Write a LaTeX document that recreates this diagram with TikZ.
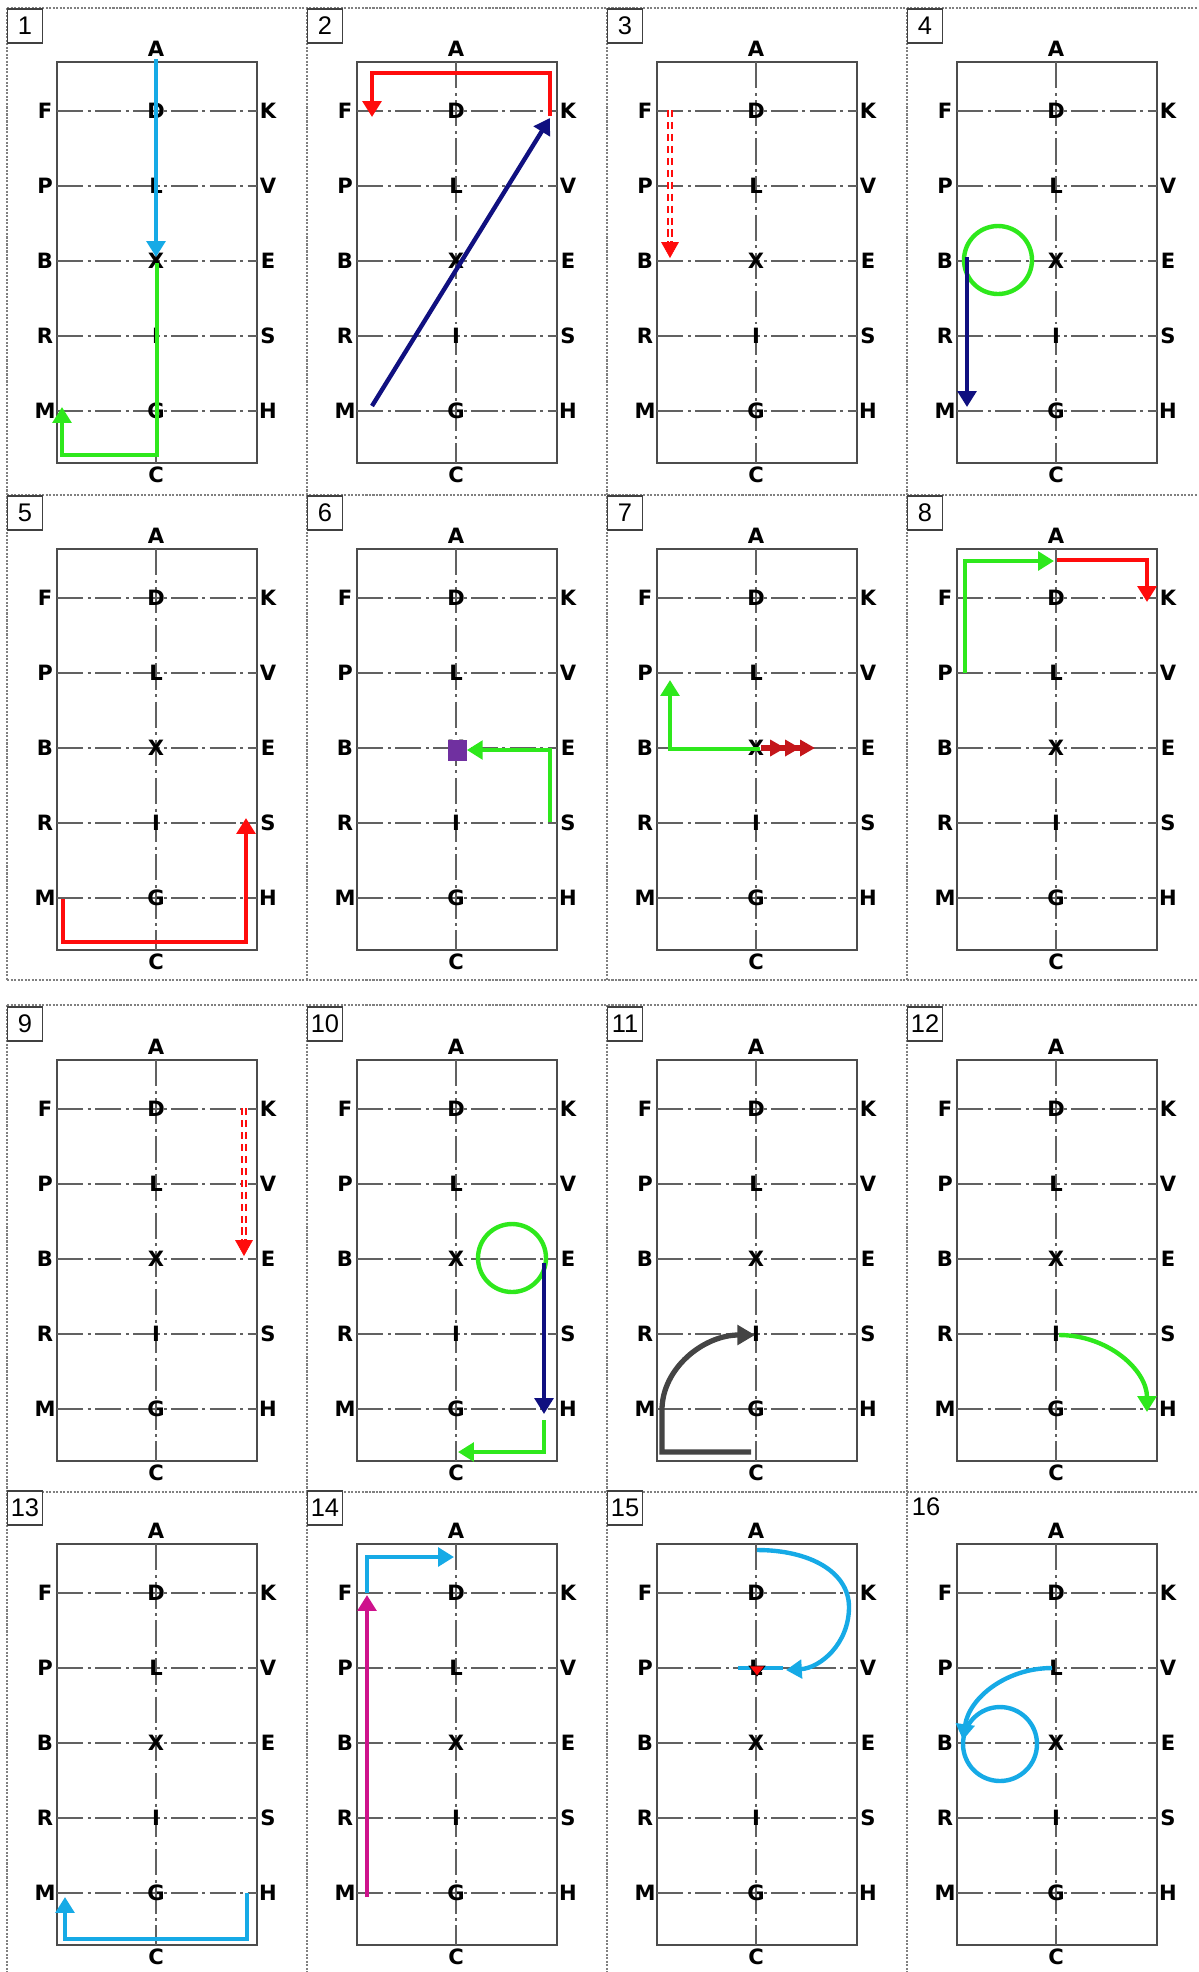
\documentclass[tikz,border=0pt]{standalone}
\usepackage{fontspec}
\setmainfont{Liberation Sans}
\newfontfamily\letterfont{DejaVu Sans}
\usetikzlibrary{arrows.meta,calc}

\definecolor{arrowBlue}{RGB}{22,170,230}
\definecolor{arrowGreen}{RGB}{46,232,28}
\definecolor{arrowRed}{RGB}{255,12,12}
\definecolor{arrowNavy}{RGB}{16,16,128}
\definecolor{arrowDarkRed}{RGB}{196,22,26}
\definecolor{arrowPurple}{RGB}{112,48,160}
\definecolor{arrowPink}{RGB}{206,18,140}
\definecolor{arrowGray}{RGB}{68,68,68}

\begin{document}
\begin{tikzpicture}[x=0.02cm, y=-0.02cm,
    letter/.style={font=\letterfont\bfseries\fontsize{12}{14}\selectfont, inner sep=0pt},
    numbox/.style={draw=black!75, line width=0.7pt, fill=white, minimum width=0.7cm, minimum height=0.68cm, inner sep=0pt, font=\fontsize{14.5}{16}\selectfont},
    numtext/.style={inner sep=0pt, font=\fontsize{14.5}{16}\selectfont},
    court/.style={draw=black!70, line width=0.9pt},
    crossline/.style={draw=black!62, line width=1.2pt, dash pattern=on 15pt off 2.5pt on 1.7pt off 2.5pt},
    frame/.style={draw=black!50, line width=0.8pt, dash pattern=on 1.2pt off 0.8pt},
    track/.style={line width=2.5pt, -{Triangle[length=9pt,width=10.5pt]}},
    ring/.style={line width=2.5pt},
    dotpair/.style={draw=#1, line width=1.1pt, double=white, double distance=1.3pt, dash pattern=on 4pt off 2.8pt},
    redtip/.style={arrowRed, line width=0.4pt, -{Triangle[length=9pt,width=10pt]}}
]
\useasboundingbox (0,0) rectangle (1198,1972);

% panel frames
\foreach \fy in {8,495,980,1005,1492}
  \draw[frame] (7,\fy) -- (1198,\fy);
\foreach \fx in {7,307,607,907}{
  \draw[frame] (\fx,8) -- (\fx,980);
  \draw[frame] (\fx,1005) -- (\fx,1972);
}

% sixteen arenas
\foreach \n/\ox/\oy in {1/0/0,2/300/0,3/600/0,4/900/0,5/0/487,6/300/487,7/600/487,8/900/487,9/0/998,10/300/998,11/600/998,12/900/998,13/0/1482,14/300/1482,15/600/1482,16/900/1482}{
  \begin{scope}[shift={(\ox,\oy)}, name prefix=p\n-]
    \draw[court] (57,62) rectangle (257,463);
    \draw[crossline] (156,62) -- (156,463);
    \coordinate (A) at (156,62);
    \coordinate (C) at (156,463);
    \node[letter] (tA) at (156,49) {A};
    \node[letter] (tC) at (156,475) {C};
    \foreach \wl/\cl/\el [count=\row] in {F/D/K,P/L/V,B/X/E,R/I/S,M/G/H}{
      \coordinate (\wl) at (57,{36+75*\row});
      \coordinate (\cl) at (156,{36+75*\row});
      \coordinate (\el) at (257,{36+75*\row});
      \draw[crossline] (\wl) -- (\el);
      \node[letter] (t\wl) at (45,{36+75*\row}) {\wl};
      \node[letter] (t\cl) at (\cl) {\cl};
      \node[letter] (t\el) at (268,{36+75*\row}) {\el};
    }
    \ifnum\n<16
      \node[numbox] (num) at (25,26) {\n};
    \else
      \node[numtext] (num) at (26,25) {\n};
    \fi
  \end{scope}
}

% 1
\begin{scope}[name prefix=p1-]
  \draw[track, arrowBlue] ($(A)+(0,-3)$) -- ($(X)+(0,-4)$);
  \draw[track, arrowGreen] ($(X)+(1,2)$) |- ($(M)+(5,44)$) -- ($(M)+(5,-4)$);
\end{scope}

% 2
\begin{scope}[name prefix=p2-]
  \draw[track, arrowRed] ($(K)+(-7,5)$) |- ($(F)+(15,-38)$) -- ($(F)+(15,6)$);
  \draw[track, arrowNavy] ($(M)+(15,-5)$) -- ($(K)+(-7,7)$);
\end{scope}

% 3
\begin{scope}[name prefix=p3-]
  \draw[dotpair=arrowRed] ($(F)+(13,-1)$) -- ($(B)+(13,-19)$);
  \draw[redtip] ($(B)+(13,-20)$) -- ($(B)+(13,-3)$);
\end{scope}

% 4
\begin{scope}[name prefix=p4-]
  \draw[ring, arrowGreen] ($(B)+(41,-1)$) circle[radius=0.68cm];
  \draw[track, arrowNavy] ($(B)+(10,-4)$) -- ($(M)+(10,-4)$);
\end{scope}

% 5
\begin{scope}[name prefix=p5-]
  \draw[track, arrowRed] ($(M)+(6,1)$) |- ($(C)+(0,-8)$) -| ($(S)+(-11,-5)$);
\end{scope}

% 6
\begin{scope}[name prefix=p6-]
  \node[fill=arrowPurple, minimum width=0.38cm, minimum height=0.42cm, inner sep=0pt] (sq) at ($(X)+(1,2)$) {};
  \draw[track, arrowGreen] ($(S)+(-7,-1)$) |- (sq.east);
\end{scope}

% 7
\begin{scope}[name prefix=p7-]
  \draw[track, arrowGreen] ($(X)+(4,1)$) -| ($(P)+(13,7)$);
  \draw[arrowDarkRed, line width=3pt, -{Triangle[length=8.5pt,width=9pt] Triangle[length=8.5pt,width=9pt] Triangle[length=8.5pt,width=9pt]}] ($(X)+(5,0)$) -- ($(X)+(59,0)$);
\end{scope}

% 8
\begin{scope}[name prefix=p8-]
  \draw[track, arrowGreen] ($(P)+(8,0)$) |- ($(A)+(-2,12)$);
  \draw[track, arrowRed] ($(A)+(1,11)$) -| ($(K)+(-10,4)$);
\end{scope}

% 9
\begin{scope}[name prefix=p9-]
  \draw[dotpair=arrowRed] ($(K)+(-13,-1)$) -- ($(E)+(-13,-19)$);
  \draw[redtip] ($(E)+(-13,-20)$) -- ($(E)+(-13,-3)$);
\end{scope}

% 10
\begin{scope}[name prefix=p10-]
  \draw[ring, arrowGreen] ($(X)+(56,-1)$) circle[radius=0.68cm];
  \draw[track, arrowNavy] ($(E)+(-13,4)$) -- ($(H)+(-13,5)$);
  \draw[track, arrowGreen] ($(H)+(-13,11)$) |- ($(C)+(2,-9)$);
\end{scope}

% 11
\begin{scope}[name prefix=p11-]
  \draw[track, arrowGray, line width=3pt, -{Triangle[length=10pt,width=11pt]}] ($(C)+(-5,-9)$) -| ($(M)+(5,1)$)
    .. controls ($(M)+(5,-41)$) and ($(I)+(-52,1)$) .. ($(I)+(-1,1)$);
\end{scope}

% 12
\begin{scope}[name prefix=p12-]
  \draw[track, arrowGreen] ($(I)+(3,1)$) .. controls ($(I)+(52,1)$) and ($(H)+(-10,-39)$) .. ($(H)+(-10,3)$);
\end{scope}

% 13
\begin{scope}[name prefix=p13-]
  \draw[track, arrowBlue] ($(H)+(-10,0)$) |- ($(C)+(0,-6)$) -| ($(M)+(8,4)$);
\end{scope}

% 14
\begin{scope}[name prefix=p14-]
  \draw[track, arrowBlue] ($(F)+(10,0)$) |- ($(A)+(-2,13)$);
  \draw[track, arrowPink] ($(M)+(10,4)$) -- ($(F)+(10,2)$);
\end{scope}

% 15
\begin{scope}[name prefix=p15-]
  \draw[arrowBlue, line width=2.5pt] ($(L)+(-18,0)$) -- ($(L)+(27,0)$);
  \filldraw[fill=arrowRed, draw=black, line width=0.4pt] ($(L)+(-7,-2)$) -- ($(L)+(9,-2)$) -- ($(L)+(1,8)$) -- cycle;
  \draw[track, arrowBlue] ($(A)+(1,6)$) .. controls ($(A)+(54,6)$) and ($(K)+(-8,-21)$) .. ($(K)+(-8,14)$)
    .. controls ($(K)+(-8,51)$) and ($(V)+(-37,0)$) .. ($(V)+(-71,2)$);
\end{scope}

% 16
\begin{scope}[name prefix=p16-]
  \draw[ring, arrowBlue] ($(X)+(-56,1)$) circle[radius=0.74cm];
  \draw[track, arrowBlue] ($(L)+(-4,0)$) .. controls ($(L)+(-50,0)$) and ($(B)+(12,-45)$) .. ($(B)+(6,-3)$);
\end{scope}

\end{tikzpicture}
\end{document}
